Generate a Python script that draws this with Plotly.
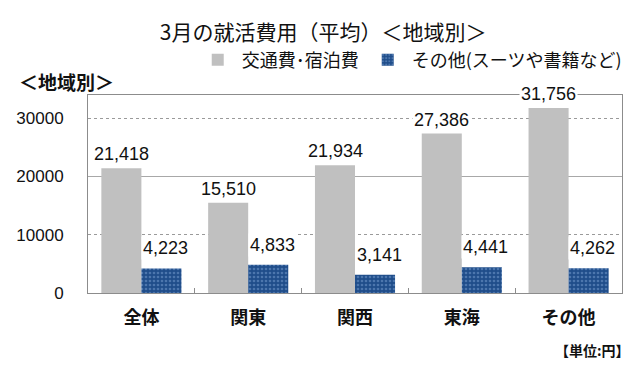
import plotly.graph_objects as go

categories = ["全体", "関東", "関西", "東海", "その他"]
travel = [21418, 15510, 21934, 27386, 31756]
other = [4223, 4833, 3141, 4441, 4262]
series_names = ["交通費･宿泊費", "その他(スーツや書籍など)"]
y_ticks = [0, 10000, 20000, 30000]

JP = "Noto Sans CJK JP"
NUM = "Liberation Sans, Arial"

fig = go.Figure()
fig.add_trace(go.Bar(
    x=categories, y=travel, name=series_names[0],
    marker=dict(color="#c0c0c0", line=dict(width=0)),
))
fig.add_trace(go.Bar(
    x=categories, y=other, name=series_names[1],
    marker=dict(color="#1f4d8a", line=dict(width=0),
                pattern=dict(shape=".", fgcolor="#7a9fd0", bgcolor="#1f4d8a",
                             size=4, solidity=0.35)),
))
# helper trace so the secondary (solid gridline) axis is drawn
fig.add_trace(go.Scatter(x=categories, y=[None] * len(categories), yaxis="y2",
                         showlegend=False, hoverinfo="skip", mode="markers"))

annotations = []
for i, c in enumerate(categories):
    annotations.append(dict(x=c, y=travel[i], xref="x", yref="y", text=f"{travel[i]:,}",
                            showarrow=False, xshift=-20, yshift=2, yanchor="bottom",
                            bgcolor="white", borderpad=1,
                            font=dict(family=NUM, size=18, color="#111")))
    annotations.append(dict(x=c, y=other[i], xref="x", yref="y", text=f"{other[i]:,}",
                            showarrow=False, xshift=24, yshift=8, yanchor="bottom",
                            bgcolor="white", borderpad=1,
                            font=dict(family=NUM, size=18, color="#111")))

annotations.append(dict(text="＜地域別＞", xref="paper", yref="paper", x=-0.133, y=1.066,
                        xanchor="left", yanchor="middle", showarrow=False,
                        font=dict(family=JP, size=19, color="#111", weight="bold")))
annotations.append(dict(text="【単位:円】", xref="paper", yref="paper", x=1.019, y=-0.288,
                        xanchor="right", yanchor="middle", showarrow=False,
                        font=dict(family=JP, size=14, color="#111", weight="bold")))

fig.update_layout(
    width=640, height=368,
    margin=dict(l=88, r=18, t=95, b=75),
    paper_bgcolor="white", plot_bgcolor="white",
    barmode="group", bargap=0.25, bargroupgap=0,
    title=dict(text="3月の就活費用（平均）＜地域別＞", xref="container", x=0.505, xanchor="center",
               y=0.911, yanchor="middle", font=dict(family=JP, size=21, color="#111")),
    legend=dict(orientation="h", xref="container", yref="container", x=0.3027, y=0.837,
                xanchor="left", yanchor="middle",
                font=dict(family=JP, size=18, color="#111"), bgcolor="rgba(0,0,0,0)",
                itemwidth=38, traceorder="normal"),
    xaxis=dict(type="category", showline=True, linecolor="#8c8c8c", linewidth=1, mirror=True,
               ticks="inside", tickson="boundaries", ticklen=5, tickcolor="#8c8c8c",
               ticklabelstandoff=8,
               tickfont=dict(family=JP, size=18, color="#111", weight="bold"), showgrid=False),
    yaxis=dict(range=[0, 34000], tickvals=y_ticks, ticktext=[str(v) for v in y_ticks],
               showline=True, linecolor="#8c8c8c",
               linewidth=1, mirror=True, showgrid=True, gridcolor="#9a9a9a", griddash="dot",
               gridwidth=1, zeroline=False, ticks="", ticklabelstandoff=20,
               tickfont=dict(family=NUM, size=17, color="#111")),
    yaxis2=dict(range=[0, 34000], overlaying="y", tickvals=[20000], showticklabels=False,
                showgrid=True, gridcolor="#a8a8a8", gridwidth=1, zeroline=False,
                showline=False, ticks=""),
    annotations=annotations,
)

fig.write_html("out.html", config={"displayModeBar": False},
               post_script="document.body.style.margin='0';")
